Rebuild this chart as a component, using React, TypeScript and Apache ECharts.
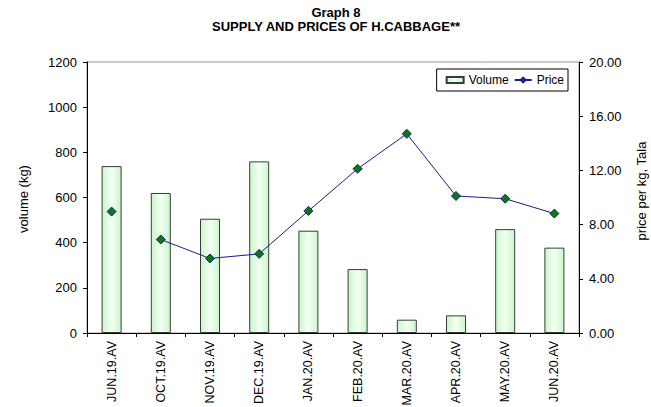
import React, { useEffect, useRef } from "react";
import * as echarts from "echarts";

const categories = ["JUN.19.AV", "OCT.19.AV", "NOV.19.AV", "DEC.19.AV", "JAN.20.AV", "FEB.20.AV", "MAR.20.AV", "APR.20.AV", "MAY.20.AV", "JUN.20.AV"];
const volume = [739, 620, 506, 760, 453, 283, 59, 78, 460, 378];
const price = [8.96, 6.9, 5.5, 5.84, 9.01, 12.12, 14.7, 10.11, 9.91, 8.81];
const volumeTicks = { min: 0, max: 1200, interval: 200 };
const priceTicks = { min: 0, max: 20, interval: 4 };
const leftAxisName = "volume (kg)";
const rightAxisName = "price per kg, Tala";

const FONT = "'Liberation Sans', Arial, sans-serif";

export default function App() {
  const ref = useRef<HTMLDivElement>(null);
  useEffect(() => {
    document.body.style.margin = "0";
    const chart = echarts.init(ref.current!, null, { renderer: "svg" });
    const barFill = new echarts.graphic.LinearGradient(0, 0, 1, 0, [
      { offset: 0, color: "#c8f7c8" },
      { offset: 0.5, color: "#f4fff4" },
      { offset: 1, color: "#c8f7c8" },
    ]);
    const priceLine = price.map((v, i) => (i === 0 ? "-" : v));
    const priceFirst = price.map((v, i) => (i === 0 ? v : "-"));
    const nameStyle = (text: string) => ({
      text,
      fill: "#000",
      fontSize: 13,
      fontFamily: FONT,
      align: "center",
      verticalAlign: "middle",
      textAlign: "center",
      textVerticalAlign: "middle",
    });
    chart.setOption({
      animation: false,
      textStyle: { fontFamily: FONT },
      title: {
        text: "Graph 8\nSUPPLY AND PRICES OF H.CABBAGE**",
        left: 331,
        textAlign: "center",
        top: 0,
        textStyle: { fontSize: 13, fontWeight: "bold", color: "#000", lineHeight: 14, fontFamily: FONT },
      },
      graphic: [
        { type: "text", x: 23, y: 199, rotation: Math.PI / 2, style: nameStyle(leftAxisName) },
        { type: "text", x: 641, y: 191, rotation: Math.PI / 2, style: nameStyle(rightAxisName) },
      ],
      legend: {
        data: [{ name: "Volume", icon: "rect" }, { name: "Price" }],
        right: 83,
        top: 69,
        orient: "horizontal",
        backgroundColor: "#fff",
        borderColor: "#000",
        borderWidth: 1,
        borderRadius: 0,
        padding: [5, 4, 5, 9],
        itemGap: 5,
        itemWidth: 17,
        itemHeight: 6,
        textStyle: { fontSize: 12, color: "#000", fontFamily: FONT },
      },
      grid: {
        left: 87,
        right: 72,
        top: 62,
        bottom: 74,
        show: true,
        borderColor: "#999",
        borderWidth: 1,
        containLabel: false,
        outerBoundsMode: "none",
      },
      xAxis: {
        type: "category",
        data: categories,
        boundaryGap: true,
        axisLine: { lineStyle: { color: "#000", width: 1 } },
        axisTick: { show: true, length: 4, lineStyle: { color: "#000" } },
        axisLabel: { rotate: 90, fontSize: 12.5, color: "#000", margin: 8, fontFamily: FONT },
      },
      yAxis: [
        {
          type: "value",
          min: volumeTicks.min,
          max: volumeTicks.max,
          interval: volumeTicks.interval,
          axisLine: { show: true, lineStyle: { color: "#000" } },
          axisTick: { show: true, length: 4, lineStyle: { color: "#000" } },
          axisLabel: { fontSize: 13, color: "#000", margin: 10, fontFamily: FONT, formatter: (v: number) => String(v) },
          splitLine: { show: false },
        },
        {
          type: "value",
          position: "right",
          min: priceTicks.min,
          max: priceTicks.max,
          interval: priceTicks.interval,
          axisLine: { show: true, lineStyle: { color: "#000" } },
          axisTick: { show: true, length: 4, lineStyle: { color: "#000" } },
          axisLabel: {
            fontSize: 13,
            color: "#000",
            margin: 10,
            fontFamily: FONT,
            formatter: (v: number) => v.toFixed(2),
          },
          splitLine: { show: false },
        },
      ],
      series: [
        {
          name: "Volume",
          type: "bar",
          yAxisIndex: 0,
          data: volume,
          barWidth: 20,
          itemStyle: { color: barFill, borderColor: "#3a3a3a", borderWidth: 1 },
        },
        {
          name: "Price",
          type: "line",
          yAxisIndex: 1,
          data: priceLine,
          connectNulls: false,
          symbol: "diamond",
          symbolSize: 9,
          lineStyle: { color: "#1a1a8c", width: 1 },
          itemStyle: { color: "#0a7a0a", borderColor: "#1a1a8c", borderWidth: 1 },
          z: 3,
        },
        {
          name: "PriceFirst",
          type: "line",
          yAxisIndex: 1,
          data: priceFirst,
          symbol: "diamond",
          symbolSize: 9,
          showSymbol: true,
          lineStyle: { color: "#1a1a8c", width: 1 },
          itemStyle: { color: "#0a7a0a", borderColor: "#1a1a8c", borderWidth: 1 },
          z: 3,
        },
      ],
    });
    return () => chart.dispose();
  }, []);
  return <div ref={ref} style={{ width: 651, height: 407 }} />;
}
